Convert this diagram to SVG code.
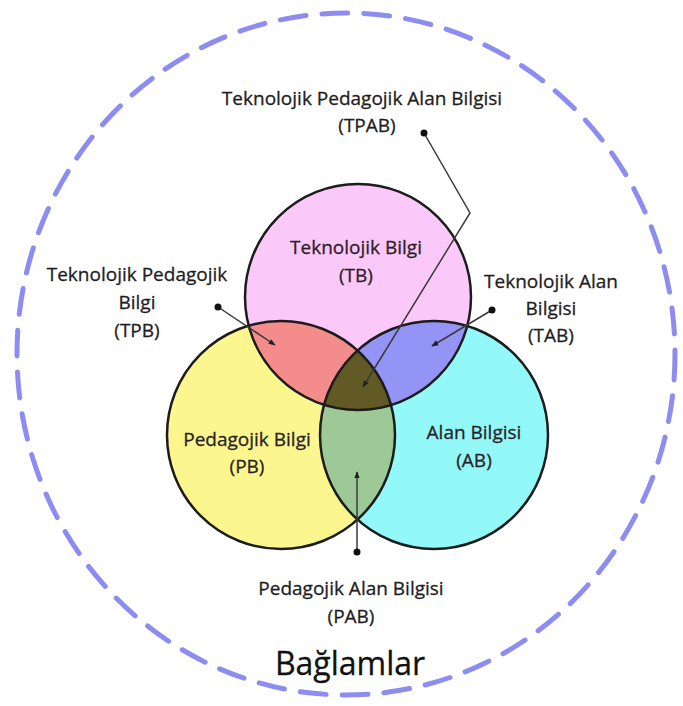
<svg xmlns="http://www.w3.org/2000/svg" width="683" height="706" viewBox="0 0 683 706">
<style>
.t{font-family:"Open Sans","Liberation Sans",sans-serif;font-size:19px;fill:#1e1e1e;stroke:#1e1e1e;stroke-width:0.3;text-anchor:middle}
.in{fill:#2a1f28;stroke:#2a1f28}
.big{font-size:32px;fill:#111;stroke:#111}
.ring{fill:none;stroke:#1c1c1c;stroke-width:2.5}
.con{fill:none;stroke:#3a3a3a;stroke-width:1.5}
.dot{fill:#111}
</style>
<defs>
<marker id="ah" viewBox="0 0 10 10" refX="9" refY="5" markerWidth="7" markerHeight="7" orient="auto" markerUnits="userSpaceOnUse">
<path d="M0,1 L10,5 L0,9 z" fill="#222"/>
</marker>
<clipPath id="cT"><circle cx="358" cy="297" r="113"/></clipPath>
<clipPath id="cP"><circle cx="281" cy="435" r="114"/></clipPath>
</defs>
<rect width="683" height="706" fill="#fff"/>
<g id="context">
<ellipse cx="346" cy="354" rx="329" ry="341" fill="none" stroke="#8d8cf0" stroke-width="5" stroke-dasharray="26 16" stroke-linecap="round"/>
<text class="t big" x="350" y="675">Bağlamlar</text>
</g>
<g id="venn-fills">
<circle cx="358" cy="297" r="113" fill="#fbc8fa"/>
<circle cx="281" cy="435" r="114" fill="#fbf68e"/>
<circle cx="434" cy="435" r="114" fill="#92f8f8"/>
<g clip-path="url(#cT)">
<circle cx="281" cy="435" r="114" fill="#f58c8c"/>
<circle cx="434" cy="435" r="114" fill="#9494f6"/>
</g>
<g clip-path="url(#cP)">
<circle cx="434" cy="435" r="114" fill="#9cc996"/>
<g clip-path="url(#cT)"><circle cx="434" cy="435" r="114" fill="#625a24"/></g>
</g>
</g>
<g id="TB">
<circle class="ring" cx="358" cy="297" r="113"/>
<text class="t in" x="356" y="254">Teknolojik Bilgi</text>
<text class="t in" x="356" y="282">(TB)</text>
</g>
<g id="PB">
<circle class="ring" cx="281" cy="435" r="114"/>
<text class="t in" x="247" y="446">Pedagojik Bilgi</text>
<text class="t in" x="247" y="473">(PB)</text>
</g>
<g id="AB">
<circle class="ring" cx="434" cy="435" r="114"/>
<text class="t in" x="474" y="439">Alan Bilgisi</text>
<text class="t in" x="474" y="467">(AB)</text>
</g>
<g id="TPAB">
<text class="t" x="362" y="105">Teknolojik Pedagojik Alan Bilgisi</text>
<text class="t" x="367" y="132">(TPAB)</text>
</g>
<g id="TPB">
<text class="t" x="137" y="281">Teknolojik Pedagojik</text>
<text class="t" x="137" y="309">Bilgi</text>
<text class="t" x="137" y="337">(TPB)</text>
</g>
<g id="TAB">
<text class="t" x="551" y="288">Teknolojik Alan</text>
<text class="t" x="551" y="315">Bilgisi</text>
<text class="t" x="551" y="342">(TAB)</text>
</g>
<g id="PAB">
<text class="t" x="351" y="595">Pedagojik Alan Bilgisi</text>
<text class="t" x="351" y="623">(PAB)</text>
</g>
<g id="connectors">
<path class="con" d="M424,133 L470,213 L363,387" marker-end="url(#ah)"/>
<path class="con" d="M218,307 L275,345" marker-end="url(#ah)"/>
<path class="con" d="M492,310 L432,346" marker-end="url(#ah)"/>
<path class="con" d="M357,552 L357,472" marker-end="url(#ah)"/>
<circle class="dot" cx="424" cy="133" r="3.5"/>
<circle class="dot" cx="218" cy="307" r="3.5"/>
<circle class="dot" cx="492" cy="310" r="3.5"/>
<circle class="dot" cx="357" cy="552" r="3.5"/>
</g>
</svg>
